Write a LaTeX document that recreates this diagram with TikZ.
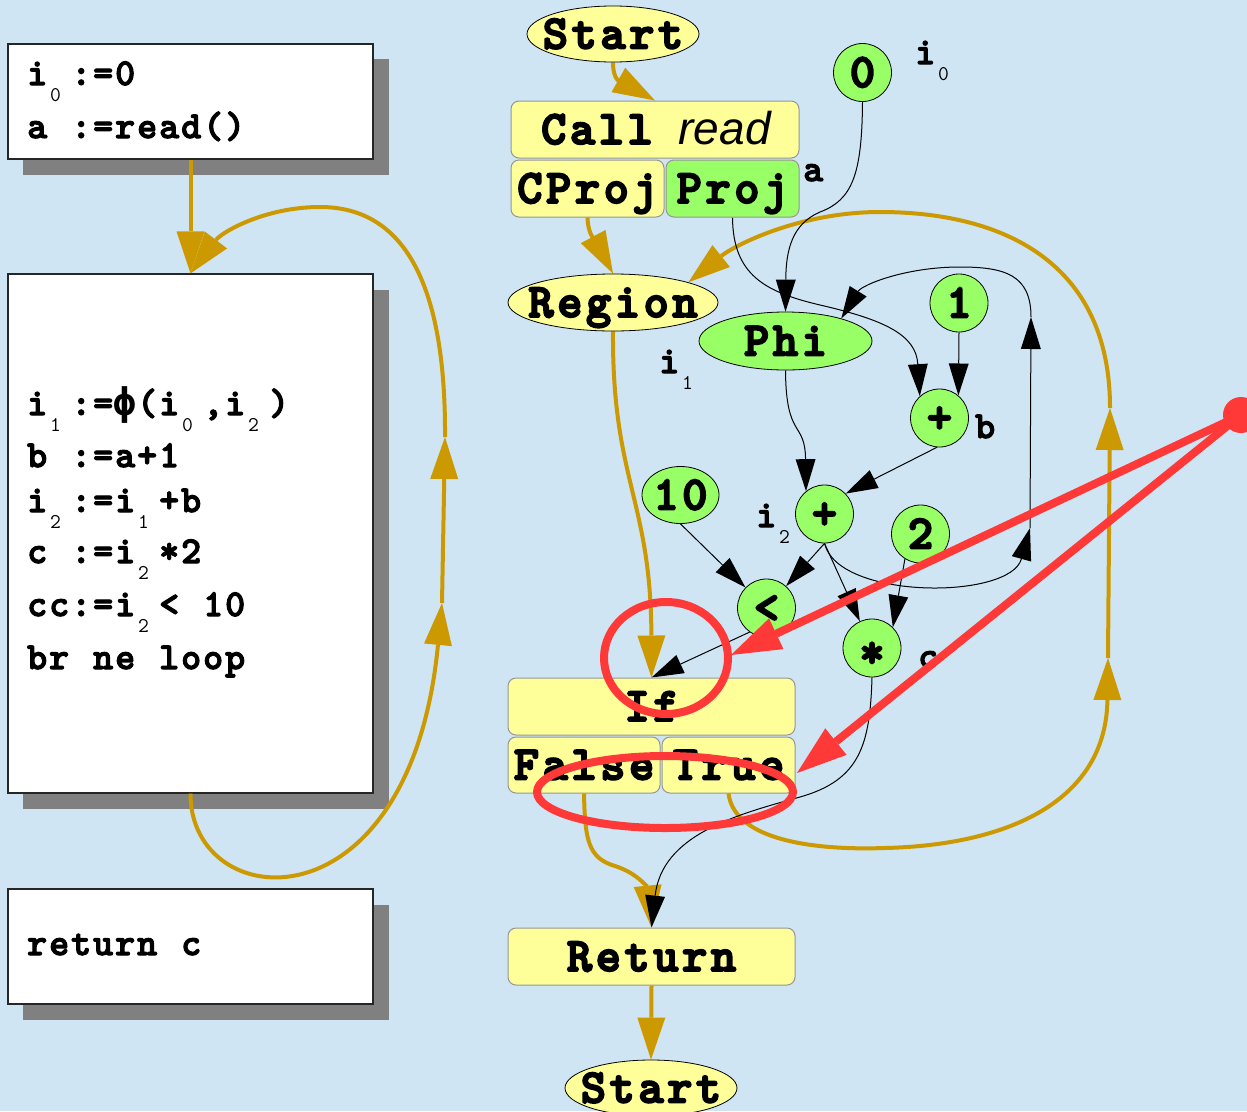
\documentclass[tikz,border=0pt]{standalone}
\usepackage{fontspec}
\newfontfamily\lsans{Liberation Sans}
\newfontfamily\djmono{DejaVu Sans Mono}
\newfontfamily\cmono{lmmonolt10-bold.otf}[FakeBold=3]
\newfontfamily\cmonob{lmmonolt10-bold.otf}[FakeBold=4]
\usetikzlibrary{arrows.meta,shapes.geometric}
\definecolor{bgblue}{RGB}{207,229,243}
\definecolor{nyellow}{RGB}{255,255,153}
\definecolor{ngreen}{RGB}{153,255,102}
\definecolor{gold}{RGB}{204,153,0}
\definecolor{redmark}{RGB}{255,56,56}
\definecolor{shadowgray}{RGB}{128,128,128}
\definecolor{boxedge}{RGB}{150,150,150}
\pgfdeclarelayer{bglayer}
\pgfdeclarelayer{edgelayer}
\pgfsetlayers{bglayer,edgelayer,main}
\newcommand\codefont{\cmono\fontsize{38}{40}\selectfont}
\newcommand\bigfont{\cmonob\fontsize{48}{52}\selectfont}
\newlength\cw
\setlength\cw{22pt}
% fixed-pitch spreading of a token list (spaces written as ~)
\def\spreadloop#1{\ifx\relax#1\else\makebox[\cw][c]{#1}\expandafter\spreadloop\fi}
\newcommand\spr[2]{\setlength\cw{#1}\spreadloop#2\relax}
\newcommand\sbs[1]{\makebox[\cw][l]{\hspace{2pt}\raisebox{-16pt}{\ttfamily\mdseries\fontsize{21}{21}\selectfont #1}}}
\newcommand\zc[1]{\makebox[0pt]{#1}}
\tikzset{
 code/.style={font=\codefont, inner sep=0pt, text=black},
 big/.style={font=\bigfont, inner sep=0pt, text height=29pt, text depth=0pt},
 ybox/.style={big, rectangle, rounded corners=8pt, draw=boxedge, line width=1pt, fill=nyellow},
 gbox/.style={ybox, fill=ngreen},
 yell/.style={big, ellipse, draw=black, line width=0.8pt, fill=nyellow},
 gell/.style={yell, fill=ngreen},
 gcirc/.style={big, circle, draw=black, line width=0.8pt, fill=ngreen, minimum size=58pt},
 codebox/.style={rectangle, draw=black!85, line width=1.2pt, fill=white, inner sep=0pt},
 dropsh/.style={fill=shadowgray},
 garrow/.style={draw=gold, line width=4pt, -{Triangle[length=42pt,width=28pt,line width=0pt]}},
 barrow/.style={draw=black, line width=1pt, -{Triangle[length=32pt,width=20pt,line width=0pt]}},
 rarrow/.style={draw=redmark, line width=8pt, -{Triangle[length=50pt,width=34pt,line width=0pt]}},
 rmark/.style={draw=redmark, line width=8pt},
}
\begin{document}
\begin{tikzpicture}[x=1pt,y=-1pt]
\useasboundingbox (0,0) rectangle (1247,1111);
\clip (0,0) rectangle (1247,1111);
\begin{pgfonlayer}{bglayer}
\fill[bgblue] (0,0) rectangle (1247,1111);
\fill[dropsh] (23,59) rectangle (389,175);
\fill[dropsh] (23,290) rectangle (389,809);
\fill[dropsh] (23,905) rectangle (389,1020);
\end{pgfonlayer}

% left code boxes
\node[codebox, minimum width=365pt, minimum height=115pt] (b1) at (190.5,101.5) {};
\node[codebox, minimum width=365pt, minimum height=519pt] (b2) at (190.5,533.5) {};
\node[codebox, minimum width=365pt, minimum height=115pt] (b3) at (190.5,946.5) {};

\node[code, anchor=base west] (t1) at (26,85) {\spr{22pt}{i{\sbs{0}}:=0}};
\node[code, anchor=base west] (t2) at (26,138) {\spr{22pt}{a~:=read()}};
\node[code, anchor=base west] (t3) at (26,415) {\spr{22pt}{i{\sbs{1}}:={\djmono\bfseries ϕ}(i{\sbs{0}},i{\sbs{2}})}};
\node[code, anchor=base west] (t4) at (26,467) {\spr{22pt}{b~:=a+1}};
\node[code, anchor=base west] (t5) at (26,512) {\spr{22pt}{i{\sbs{2}}:=i{\sbs{1}}+b}};
\node[code, anchor=base west] (t6) at (26,563) {\spr{22pt}{c~:=i{\sbs{2}}*2}};
\node[code, anchor=base west] (t7) at (26,616) {\spr{22pt}{cc:=i{\sbs{2}}<~10}};
\node[code, anchor=base west] (t8) at (26,669) {\spr{22pt}{br~ne~loop}};
\node[code, anchor=base west] (t9) at (26,955) {\spr{22pt}{return~c}};

% left arrows
\coordinate (lA) at (442,603);
\coordinate (lB) at (445,437);
\draw[garrow] (b1.south) -- (b2.north);
\draw[garrow] (b2.south) .. controls (190,915) and (410,935) .. (lA);
\draw[garrow] (lA) -- (lB);
\draw[garrow] (lB) .. controls (446,260) and (390,207) .. (320,207) .. controls (265,207) and (222,232) .. (b2.north);

% right graph nodes
\node[yell, minimum width=172pt, minimum height=56pt] (st1) at (613,34) {\zc{\spr{28.8pt}{Start}}};
\node[ybox, minimum width=288pt, minimum height=57pt] (call) at (655,129.5) {\zc{\spr{28.8pt}{Call}\hspace{24pt}{\lsans\mdseries\itshape\fontsize{46}{50}\selectfont read}}};
\node[ybox, minimum width=153pt, minimum height=57pt] (cproj) at (587.5,188.5) {\zc{\spr{28.8pt}{CProj}}};
\node[gbox, minimum width=133pt, minimum height=57pt] (proj) at (732.5,188.5) {\zc{\spr{28.8pt}{Proj}}};
\node[gcirc] (n0) at (862.5,72.5) {\zc{0}};
\node[yell, minimum width=210pt, minimum height=57pt] (region) at (613,302.5) {\zc{\spr{28.8pt}{Region}}};
\node[gell, minimum width=173pt, minimum height=58pt] (phi) at (785.5,341) {\zc{\spr{28.8pt}{Phi}}};
\node[gcirc] (n1) at (959,303) {\zc{1}};
\node[gcirc] (pb) at (939.5,418) {\zc{+}};
\node[gell, minimum width=77pt, minimum height=57pt] (n10) at (680.5,495) {\zc{\spr{28.8pt}{10}}};
\node[gcirc] (pi2) at (824.5,514) {\zc{+}};
\node[gcirc] (n2) at (920.5,534) {\zc{2}};
\node[gcirc] (lt) at (766.5,608) {\zc{<}};
\node[gcirc] (mul) at (872,648) {\zc{\raisebox{-5pt}{*}}};
\node[ybox, minimum width=287pt, minimum height=57pt] (iff) at (651.5,706.5) {\zc{\spr{28.8pt}{If}}};
\node[ybox, minimum width=152pt, minimum height=56pt] (fls) at (584,765) {\zc{\spr{28.8pt}{False}}};
\node[ybox, minimum width=133pt, minimum height=56pt] (tru) at (728.5,765) {\zc{\spr{28.8pt}{True}}};
\node[ybox, minimum width=287pt, minimum height=57pt] (ret) at (651.5,956.5) {\zc{\spr{28.8pt}{Return}}};
\node[yell, minimum width=172pt, minimum height=56pt] (st2) at (651,1088) {\zc{\spr{28.8pt}{Start}}};

% labels
\node[code, anchor=base west] (la) at (803,181) {a};
\node[code, anchor=base west] (lb) at (975,438) {b};
\node[code, anchor=base west] (lc) at (918,668) {c};
\node[code, anchor=base west] (li0) at (914,64) {\spr{22pt}{i{\sbs{0}}}};
\node[code, anchor=base west] (li1) at (658,373) {\spr{22pt}{i{\sbs{1}}}};
\node[code, anchor=base west] (li2) at (755,527) {\spr{22pt}{i{\sbs{2}}}};

% right edges
\coordinate (rA) at (1108,658);
\coordinate (rB) at (1110,408);
\coordinate (lpA) at (1030,528);
\coordinate (lpB) at (1031,317);
\begin{pgfonlayer}{edgelayer}
\draw[garrow] (st1.south) .. controls (613,82) and (622,82) .. (call.north);
\draw[garrow] (cproj.south) .. controls (588,235) and (595,240) .. (region.north);
\draw[garrow] (region.south) .. controls (612,480) and (651,500) .. (iff.north);
\draw[garrow] (fls.south) .. controls (585,840) and (588,858) .. (615,866) .. controls (640,874) and (648,890) .. (ret.north);
\draw[garrow] (ret.south) -- (st2.north);
\draw[garrow] (tru.south) .. controls (735,845) and (830,850) .. (885,848) .. controls (1010,845) and (1106,800) .. (rA);
\draw[garrow] (rA) -- (rB);
\draw[garrow] (rB) .. controls (1110,260) and (1000,212) .. (880,212) .. controls (800,212) and (735,245) .. (region.15);

\draw[barrow] (n0.south) .. controls (862,175) and (852,200) .. (820,212) .. controls (792,224) and (786,250) .. (phi.north);
\draw[barrow] (proj.south) .. controls (733,275) and (765,292) .. (820,305) .. controls (885,320) and (916,335) .. (pb.132);
\draw[barrow] (n1.south) -- (pb.50);
\draw[barrow] (phi.south) .. controls (786,440) and (805,420) .. (pi2.129);
\draw[barrow] (pb.265) -- (pi2.44);
\draw[barrow] (pi2.south) .. controls (838,600) and (1010,600) .. (lpA);
\draw[barrow] (lpA) -- (lpB);
\draw[barrow] (lpB) .. controls (1031,275) and (1005,267) .. (960,267) .. controls (905,267) and (862,285) .. (phi.22);
\draw[barrow] (n10.south) -- (lt);
\draw[barrow] (pi2.south) -- (lt);
\draw[barrow] (pi2.south) -- (mul);
\draw[barrow] (n2.238) -- (mul.45);
\draw[barrow] (lt.235) -- (iff.north);
\draw[barrow] (mul.south) .. controls (870,745) and (860,780) .. (800,797) .. controls (735,815) and (662,835) .. (ret.north);
\end{pgfonlayer}

% red annotations
\node[circle, fill=redmark, minimum size=36pt, inner sep=0pt] (rdot) at (1241,415) {};
\coordinate (rt1) at (731,655);
\coordinate (rt2) at (797,773);
\draw[rarrow] (rdot.center) -- (rt1);
\draw[rarrow] (rdot.center) -- (rt2);
\draw[rmark] (666,658) ellipse [x radius=62pt, y radius=56pt];
\draw[rmark] (665,792) ellipse [x radius=128pt, y radius=36pt];
\end{tikzpicture}
\end{document}
